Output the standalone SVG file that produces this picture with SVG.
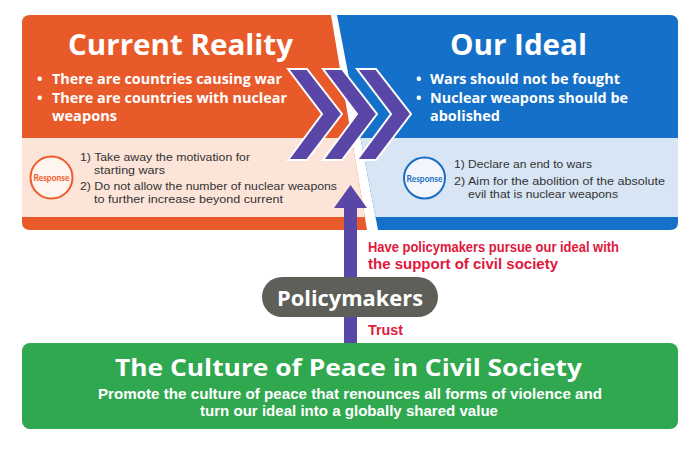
<svg xmlns="http://www.w3.org/2000/svg" width="700" height="453" viewBox="0 0 700 453">
<style>
.t{font-family:"Open Sans","Liberation Sans",sans-serif;font-weight:700;fill:#fff}
.r{font-family:"Liberation Sans","Open Sans",sans-serif;font-weight:400;fill:#333;font-size:11.5px}
.red{font-family:"Liberation Sans","Open Sans",sans-serif;font-weight:700;fill:#E0183C;font-size:14.5px}
.g{font-family:"Open Sans","Liberation Sans",sans-serif;font-weight:700;fill:#fff}
.gs{font-family:"Liberation Sans","Open Sans",sans-serif;font-weight:700;fill:#fff;font-size:14.5px}
.chev{fill:#5A46A6;stroke:#fff;stroke-width:2;stroke-linejoin:miter}
</style>
<defs>
<clipPath id="cpO"><path d="M30,15 H331 L367,230 H30 Q22,230 22,222 V23 Q22,15 30,15 Z"/></clipPath>
<clipPath id="cpB"><path d="M337,15 H670 Q678,15 678,23 V222 Q678,230 670,230 H378 Z"/></clipPath>
</defs>
<rect width="700" height="453" fill="#fff"/>
<g id="current-reality">
<g clip-path="url(#cpO)">
<rect x="0" y="0" width="400" height="240" fill="#E95A2B"/>
<rect x="0" y="138" width="400" height="79" fill="#FCE4D8"/>
</g>
<text class="t" x="180.5" y="55" font-size="28" text-anchor="middle" textLength="225" lengthAdjust="spacingAndGlyphs">Current Reality</text>
<text class="t" x="37" y="84" font-size="14.5">•</text>
<text class="t" x="52" y="84" font-size="14.5" textLength="230" lengthAdjust="spacingAndGlyphs">There are countries causing war</text>
<text class="t" x="37" y="103" font-size="14.5">•</text>
<text class="t" x="52" y="103" font-size="14.5" textLength="235" lengthAdjust="spacingAndGlyphs">There are countries with nuclear</text>
<text class="t" x="52" y="121" font-size="14.5" textLength="65" lengthAdjust="spacingAndGlyphs">weapons</text>
<circle cx="51.5" cy="177.5" r="21" fill="#FFF4EE" stroke="#EF5A2A" stroke-width="2"/>
<text x="51.5" y="181" font-family="Lato,'Liberation Sans',sans-serif" font-weight="700" font-size="9.5" fill="#EF5A2A" text-anchor="middle" textLength="36" lengthAdjust="spacingAndGlyphs">Response</text>
<text class="r" x="80" y="161" textLength="170" lengthAdjust="spacingAndGlyphs">1) Take away the motivation for</text>
<text class="r" x="94" y="174" textLength="71" lengthAdjust="spacingAndGlyphs">starting wars</text>
<text class="r" x="80" y="190" textLength="257" lengthAdjust="spacingAndGlyphs">2) Do not allow the number of nuclear weapons</text>
<text class="r" x="94" y="203" textLength="189" lengthAdjust="spacingAndGlyphs">to further increase beyond current</text>
</g>
<g id="our-ideal">
<g clip-path="url(#cpB)">
<rect x="300" y="0" width="400" height="240" fill="#1470C8"/>
<rect x="300" y="138" width="400" height="79" fill="#D8E5F4"/>
</g>
<text class="t" x="518.5" y="55" font-size="28" text-anchor="middle" textLength="137" lengthAdjust="spacingAndGlyphs">Our Ideal</text>
<text class="t" x="416" y="84" font-size="14.5">•</text>
<text class="t" x="430" y="84" font-size="14.5" textLength="190" lengthAdjust="spacingAndGlyphs">Wars should not be fought</text>
<text class="t" x="416" y="103" font-size="14.5">•</text>
<text class="t" x="430" y="103" font-size="14.5" textLength="198" lengthAdjust="spacingAndGlyphs">Nuclear weapons should be</text>
<text class="t" x="430" y="121" font-size="14.5" textLength="70" lengthAdjust="spacingAndGlyphs">abolished</text>
<circle cx="424.5" cy="178" r="20.5" fill="#F2F6FC" stroke="#1A6FC2" stroke-width="2"/>
<text x="424.5" y="181.5" font-family="Lato,'Liberation Sans',sans-serif" font-weight="700" font-size="9.5" fill="#1A6FC2" text-anchor="middle" textLength="36" lengthAdjust="spacingAndGlyphs">Response</text>
<text class="r" x="454" y="168" textLength="138" lengthAdjust="spacingAndGlyphs">1) Declare an end to wars</text>
<text class="r" x="454" y="185" textLength="211" lengthAdjust="spacingAndGlyphs">2) Aim for the abolition of the absolute</text>
<text class="r" x="468" y="198" textLength="150" lengthAdjust="spacingAndGlyphs">evil that is nuclear weapons</text>
</g>
<g id="chevrons">
<path class="chev" d="M288,69 H307 L342,114 L307,160 H288 L322,114 Z"/>
<path class="chev" d="M323,69 H342 L377,114 L342,160 H323 L357,114 Z"/>
<path class="chev" d="M357,69 H376 L411,114 L376,160 H357 L391,114 Z"/>
</g>
<g id="connectors">
<path d="M344,345 V208 H334 L350.5,185 L367,208 H357 V345 Z" fill="#5A46A6"/>
</g>
<g id="policymakers">
<rect x="262" y="277" width="176" height="40" rx="20" fill="#5E5F58"/>
<text class="t" x="350" y="306" font-size="21" text-anchor="middle" textLength="146" lengthAdjust="spacingAndGlyphs">Policymakers</text>
</g>
<g id="labels">
<text class="red" x="368" y="252" textLength="251" lengthAdjust="spacingAndGlyphs">Have policymakers pursue our ideal with</text>
<text class="red" x="368" y="269" textLength="190" lengthAdjust="spacingAndGlyphs">the support of civil society</text>
<text class="red" x="368" y="335" textLength="35" lengthAdjust="spacingAndGlyphs">Trust</text>
</g>
<g id="civil-society">
<rect x="22" y="343" width="656" height="86" rx="8" fill="#2FA84F"/>
<text class="g" x="348.5" y="376" font-size="24" text-anchor="middle" textLength="467" lengthAdjust="spacingAndGlyphs">The Culture of Peace in Civil Society</text>
<text class="gs" x="350" y="399" text-anchor="middle" textLength="504" lengthAdjust="spacingAndGlyphs">Promote the culture of peace that renounces all forms of violence and</text>
<text class="gs" x="349" y="416" text-anchor="middle" textLength="298" lengthAdjust="spacingAndGlyphs">turn our ideal into a globally shared value</text>
</g>
</svg>
